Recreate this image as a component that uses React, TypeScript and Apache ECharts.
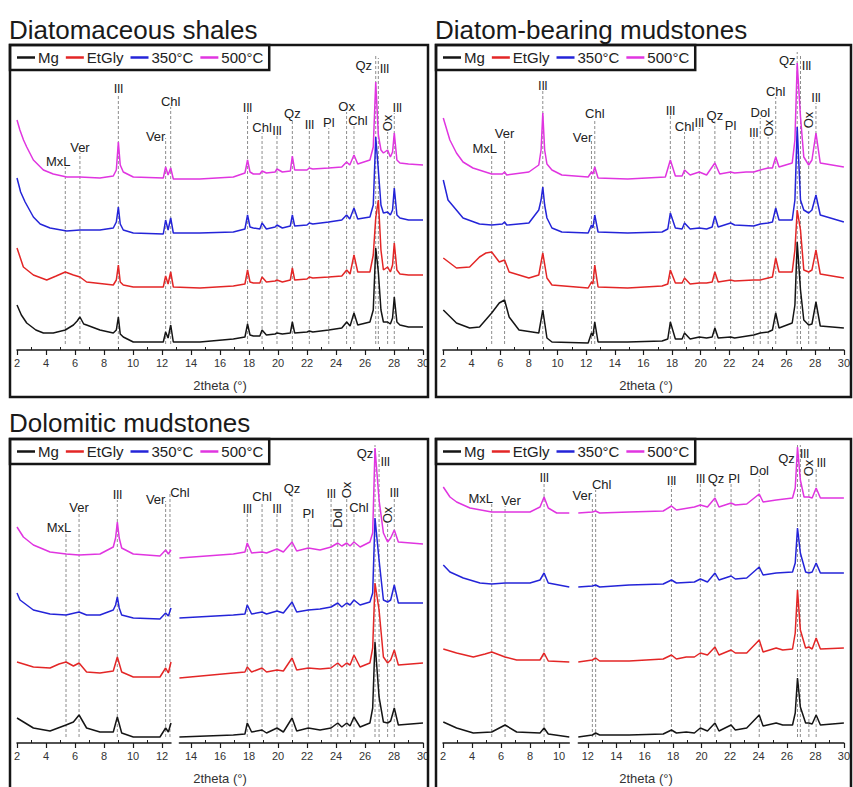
import React, { useEffect, useRef } from "react";
import * as echarts from "echarts";

const FONT = "'Liberation Sans', Arial, Helvetica, sans-serif";

// ---------- legend / series ----------
const SERIES_NAMES = ["Mg", "EtGly", "350°C", "500°C"];
const COLORS = ["#151515", "#e32626", "#2424d8", "#e035e0"];

// ---------- x axis ticks (2theta, °) ----------
const X_MIN = 2;
const X_MAX = 30;
const X_MAJOR_TICKS = [2, 4, 6, 8, 10, 12, 14, 16, 18, 20, 22, 24, 26, 28, 30];
const X_MINOR_TICKS = [3, 5, 7, 9, 11, 13, 15, 17, 19, 21, 23, 25, 27, 29];
const AXIS_NAME = "2theta (°)";

// ---------- Panel 1 : Diatomaceous shales ----------
const P1_MG = [[2.0,45],[2.3,35],[2.67,27],[3.3,20],[3.82,17],[4.5,17],[5.33,20],[5.89,25],[6.15,29],[6.34,33],[6.6,26],[6.8,25],[7.72,20],[8.64,17],[8.85,20],[8.99,33],[9.12,16],[9.33,13],[10.02,8],[12.09,8],[12.25,18],[12.42,12],[12.6,25],[12.78,8],[14.62,8],[16.92,11],[17.72,13],[17.9,26],[18.07,15],[18.3,14],[18.75,14],[18.9,20],[19.2,15],[19.8,16],[19.93,17],[20.3,16],[20.85,17],[20.99,28],[21.15,17],[22.0,18],[22.16,19],[22.4,18],[23.5,20],[24.4,22],[24.74,28],[24.97,24],[25.24,37],[25.5,25],[26.34,28],[26.57,40],[26.74,102],[26.92,78],[27.1,40],[27.27,28],[27.56,28],[27.75,26],[27.9,32],[28.02,53],[28.2,28],[28.41,25],[29,23],[30,23]];
const P1_EG = [[2.0,102],[2.44,83],[3.13,75],[4.05,70],[4.7,74],[5.33,78],[5.89,75],[6.34,73],[6.8,68],[8.64,65],[8.85,70],[8.99,85],[9.12,68],[9.33,65],[10.02,63],[12.09,63],[12.25,74],[12.42,66],[12.6,78],[12.78,63],[14.62,62],[16.92,64],[17.72,66],[17.9,80],[18.07,68],[18.3,67],[18.75,67],[18.9,73],[19.2,68],[19.8,69],[19.93,70],[20.3,68],[20.85,70],[20.99,82],[21.15,70],[22.0,71],[22.16,73],[22.4,72],[23.5,73],[24.4,74],[24.74,80],[24.97,76],[25.24,95],[25.5,78],[26.34,78],[26.57,95],[26.74,132],[26.92,150],[27.1,100],[27.27,80],[27.56,83],[27.75,78],[27.9,85],[28.02,107],[28.2,80],[28.41,76],[29,75],[30,75]];
const P1_350 = [[2.0,172],[2.25,158],[2.56,148],[3.13,133],[3.6,126],[4.28,122],[5.43,119],[6.34,120],[7.72,120],[8.64,122],[8.85,128],[8.99,143],[9.12,126],[9.33,120],[10.02,117],[12.09,116],[12.25,130],[12.42,120],[12.6,132],[12.78,117],[14.6,117],[16.92,118],[17.72,121],[17.9,135],[18.07,123],[18.3,122],[18.75,121],[18.9,127],[19.2,121],[19.8,123],[19.93,125],[20.3,122],[20.85,124],[20.99,135],[21.15,124],[22.0,125],[22.16,127],[22.4,126],[23.5,128],[24.4,130],[24.73,135],[24.95,131],[25.24,142],[25.5,131],[26.34,133],[26.57,145],[26.74,213],[26.92,180],[27.1,145],[27.27,137],[27.56,138],[27.75,135],[27.9,140],[28.02,162],[28.2,135],[28.41,132],[29,130],[30,130]];
const P1_500 = [[2.0,230],[2.2,220],[2.45,210],[2.67,203],[3.13,190],[3.82,180],[4.5,176],[5.43,173],[6.34,173],[7.72,172],[8.64,174],[8.85,180],[8.99,208],[9.12,185],[9.33,178],[10.02,173],[12.09,172],[12.25,183],[12.42,175],[12.6,182],[12.78,171],[14.6,171],[16.92,173],[17.72,177],[17.9,190],[18.07,178],[18.3,176],[18.75,176],[18.9,179],[19.2,177],[19.8,178],[19.93,181],[20.3,178],[20.85,179],[20.99,194],[21.15,180],[22.0,180],[22.16,182],[22.4,181],[23.5,182],[24.4,183],[24.73,188],[24.95,185],[25.24,195],[25.5,186],[26.34,190],[26.57,203],[26.74,268],[26.92,215],[27.1,200],[27.27,197],[27.56,200],[27.75,193],[27.9,198],[28.02,217],[28.2,190],[28.41,187],[29.0,186],[30,185]];
const P1_PEAK_POS = [5.33, 6.34, 8.99, 12.25, 12.6, 17.9, 18.9, 19.93, 20.99, 22.16, 23.5, 24.73, 25.24, 26.74, 26.92, 27.56, 28.02];
const P1_PEAK_TEXT = ["MxL", "Ver", "Ill", "Ver", "Chl", "Ill", "Chl", "Ill", "Qz", "Ill", "Pl", "Ox", "Chl", "Qz", "Ill", "Ox", "Ill"];

// ---------- Panel 2 : Diatom-bearing mudstones ----------
const P2_MG = [[2.02,40],[2.94,27],[3.86,22],[4.55,23],[5.4,37],[5.93,47],[6.3,50],[6.62,33],[7.31,20],[8.69,17],[8.97,40],[9.26,12],[9.61,8],[12.14,7],[12.37,17],[12.47,14],[12.6,28],[12.83,8],[14.9,8],[17.3,9],[17.7,11],[17.88,28],[18.23,11],[18.7,11],[18.87,17],[19.26,11],[19.91,13],[20.41,12],[20.8,13],[20.99,22],[21.22,12],[22.09,13],[22.37,12],[23.7,15],[24.16,17],[24.71,18],[25.01,20],[25.24,37],[25.47,22],[26.39,27],[26.58,45],[26.74,108],[26.97,60],[27.2,30],[27.54,25],[27.77,26],[28.05,48],[28.35,24],[30,22]];
const P2_EG = [[2.02,92],[2.94,82],[3.86,83],[4.55,93],[5.0,97],[5.4,98],[5.93,88],[6.3,90],[6.62,78],[8.0,72],[8.69,75],[8.97,97],[9.26,72],[9.61,65],[12.14,62],[12.37,68],[12.47,66],[12.6,85],[12.83,63],[14.9,62],[17.3,64],[17.7,66],[17.88,80],[18.23,67],[18.7,67],[18.87,72],[19.26,66],[19.9,67],[20.41,67],[20.8,68],[20.99,78],[21.22,68],[22.09,70],[22.37,69],[23.7,70],[24.16,70],[24.71,72],[25.01,73],[25.24,92],[25.47,78],[26.39,78],[26.58,100],[26.74,140],[26.97,120],[27.2,80],[27.54,78],[27.77,80],[28.05,100],[28.35,76],[30,72]];
const P2_350 = [[2.02,170],[2.35,150],[3.4,132],[4.55,126],[5.4,125],[6.15,126],[6.3,128],[6.45,125],[8.0,127],[8.69,140],[8.85,150],[8.97,163],[9.1,145],[9.26,132],[9.61,122],[10.3,118],[12.14,117],[12.37,125],[12.47,122],[12.6,135],[12.83,118],[14.9,117],[17.3,118],[17.7,121],[17.88,137],[18.23,122],[18.7,121],[18.87,127],[19.26,121],[19.9,122],[20.41,121],[20.8,123],[20.99,134],[21.22,123],[22.09,127],[22.37,125],[23.7,124],[24.16,126],[24.71,127],[25.01,128],[25.24,142],[25.47,130],[26.39,130],[26.58,150],[26.74,223],[26.97,150],[27.2,140],[27.54,137],[27.77,140],[28.05,155],[28.35,135],[30,128]];
const P2_500 = [[2.02,232],[2.48,210],[2.94,197],[3.4,188],[4.09,182],[5.4,176],[6.15,176],[6.3,178],[6.45,175],[8.0,178],[8.69,185],[8.85,200],[8.97,237],[9.1,200],[9.26,186],[9.61,180],[10.3,175],[12.14,173],[12.37,178],[12.47,176],[12.6,183],[12.83,172],[14.9,171],[17.53,173],[17.88,190],[18.23,174],[18.7,174],[18.87,180],[19.26,175],[19.9,178],[20.41,175],[20.99,187],[21.33,176],[22.09,178],[22.37,177],[23.17,178],[23.7,178],[24.16,180],[24.71,182],[25.01,182],[25.24,193],[25.47,183],[26.39,187],[26.58,210],[26.74,287],[26.97,233],[27.2,193],[27.54,185],[27.77,190],[28.05,217],[28.35,187],[30,183]];
const P2_PEAK_POS = [5.4, 6.3, 8.97, 12.37, 12.6, 17.88, 18.87, 19.9, 20.99, 22.09, 23.7, 24.16, 24.71, 25.24, 26.74, 26.97, 27.54, 28.05];
const P2_PEAK_TEXT = ["MxL", "Ver", "Ill", "Ver", "Chl", "Ill", "Chl", "Ill", "Qz", "Pl", "Ill", "Dol", "Ox", "Chl", "Qz", "Ill", "Ox", "Ill"];

// ---------- Panel 3 : Dolomitic mudstones ----------
const P3_MG = [[2.0,25],[3.13,15],[4.28,12],[5.38,18],[5.89,21],[6.28,28],[6.8,15],[7.72,11],[8.64,11],[8.92,26],[9.22,10],[10.02,6],[11.86,6],[12.25,15],[12.44,11],[12.62,20],[13.2,6],[16.92,8],[17.72,9],[17.88,20],[18.18,11],[18.9,13],[19.21,10],[19.93,15],[20.37,11],[20.97,25],[21.29,12],[22.09,15],[22.9,13],[23.66,15],[24.12,20],[24.4,16],[24.74,20],[24.97,17],[25.24,26],[25.66,16],[26.34,20],[26.53,35],[26.69,101],[26.97,46],[27.27,21],[27.56,20],[27.77,22],[28.02,35],[28.3,18],[30,20]];
const P3_EG = [[2.0,81],[3.13,76],[4.28,75],[4.9,79],[5.38,81],[5.89,77],[6.28,80],[6.8,71],[7.72,70],[8.64,72],[8.92,86],[9.22,71],[10.02,66],[11.86,66],[12.25,75],[12.44,70],[12.62,81],[13.2,65],[16.92,70],[17.72,71],[17.88,76],[18.18,71],[18.9,75],[19.21,71],[19.93,73],[20.37,72],[20.97,85],[21.29,73],[22.09,75],[22.9,74],[23.66,75],[24.12,80],[24.4,76],[24.74,80],[24.97,78],[25.24,88],[25.66,76],[26.34,80],[26.53,95],[26.69,160],[26.97,133],[27.27,86],[27.56,80],[27.77,83],[28.02,93],[28.3,78],[30,80]];
const P3_350 = [[2.0,150],[2.21,143],[3.13,133],[4.28,129],[5.38,128],[6.28,131],[6.8,128],[7.72,128],[8.64,133],[8.8,138],[8.92,146],[9.05,135],[9.22,128],[10.02,125],[11.86,124],[12.25,130],[12.44,127],[12.62,135],[13.2,125],[16.92,128],[17.72,129],[17.88,138],[18.18,129],[18.9,131],[19.21,129],[19.93,132],[20.37,130],[20.97,141],[21.29,131],[22.09,133],[22.9,134],[23.66,136],[24.12,140],[24.4,136],[24.74,140],[24.97,138],[25.24,143],[25.66,138],[26.34,141],[26.53,150],[26.69,225],[26.97,183],[27.27,143],[27.56,141],[27.77,143],[28.02,158],[28.3,140],[30,140]];
const P3_500 = [[2.0,216],[2.44,206],[3.13,198],[4.28,191],[5.38,189],[6.28,188],[7.72,189],[8.64,196],[8.8,205],[8.92,221],[9.05,205],[9.22,195],[10.02,189],[11.86,187],[12.25,193],[12.44,189],[12.62,193],[13.2,185],[16.92,189],[17.72,191],[17.88,200],[18.18,190],[18.9,191],[19.21,190],[19.93,194],[20.37,191],[20.97,201],[21.29,192],[22.09,195],[22.9,193],[23.66,196],[24.12,200],[24.4,197],[24.74,200],[24.97,197],[25.24,201],[25.66,196],[26.34,201],[26.53,210],[26.69,295],[26.97,243],[27.27,210],[27.56,201],[27.77,205],[28.02,213],[28.3,201],[30,199]];
const P3_PEAK_POS = [5.38, 6.28, 8.92, 12.25, 12.55, 17.88, 18.9, 19.93, 20.97, 22.09, 23.66, 24.12, 24.74, 25.24, 26.69, 26.97, 27.56, 28.02];
const P3_PEAK_TEXT = ["MxL", "Ver", "Ill", "Ver", "Chl", "Ill", "Chl", "Ill", "Qz", "Pl", "Ill", "Dol", "Ox", "Chl", "Qz", "Ill", "Ox", "Ill"];

// ---------- Panel 4 ----------
const P4_MG = [[2.02,21],[2.94,15],[4.09,10],[5.36,11],[6.28,18],[7.08,11],[8.69,10],[8.97,15],[9.26,9],[10.71,6],[11.33,6],[12.32,8],[12.55,10],[12.83,8],[14.9,8],[17.3,9],[17.88,13],[18.23,10],[18.92,11],[19.49,10],[19.91,15],[20.41,12],[20.94,20],[21.22,12],[22.07,18],[22.37,13],[23.17,15],[24.05,28],[24.32,17],[25.24,20],[25.7,18],[26.39,18],[26.58,30],[26.74,65],[26.94,36],[27.31,20],[27.54,20],[27.77,19],[28.05,28],[28.35,18],[30,20]];
const P4_EG = [[2.02,94],[2.94,90],[4.09,86],[4.9,89],[5.36,91],[6.28,86],[7.08,83],[8.69,83],[8.97,90],[9.26,82],[10.71,81],[11.33,81],[12.32,83],[12.55,85],[12.83,82],[14.9,82],[17.3,84],[17.88,88],[18.23,84],[18.92,86],[19.49,86],[19.91,90],[20.41,88],[20.94,96],[21.22,88],[22.07,93],[22.37,90],[23.17,90],[24.05,103],[24.32,91],[25.24,95],[25.7,93],[26.39,94],[26.58,110],[26.74,153],[26.94,113],[27.31,95],[27.54,96],[27.77,94],[28.05,105],[28.35,94],[30,95]];
const P4_350 = [[2.02,178],[2.48,171],[3.4,165],[4.55,160],[5.36,159],[6.28,160],[8.0,160],[8.69,163],[8.97,170],[9.26,160],[10.71,156],[11.33,156],[12.32,157],[12.55,158],[12.83,156],[14.9,158],[17.3,159],[17.88,163],[18.23,160],[19.49,161],[19.91,164],[20.41,161],[20.94,170],[21.22,163],[22.07,167],[22.37,164],[23.17,165],[24.05,176],[24.32,168],[25.24,170],[26.39,171],[26.58,180],[26.74,215],[26.94,190],[27.31,171],[27.54,170],[27.77,171],[28.05,180],[28.35,170],[30,170]];
const P4_500 = [[2.02,256],[2.48,246],[2.94,241],[3.86,235],[5.36,231],[6.28,231],[8.0,231],[8.69,236],[8.97,246],[9.26,235],[9.84,230],[10.71,230],[11.33,230],[12.32,231],[12.55,232],[12.83,230],[14.9,231],[17.3,232],[17.88,237],[18.23,233],[19.49,236],[19.91,238],[20.41,236],[20.94,245],[21.22,236],[22.07,240],[22.37,238],[23.17,239],[24.05,249],[24.32,241],[25.24,243],[26.39,245],[26.58,255],[26.74,296],[26.94,263],[27.2,246],[27.54,246],[27.77,245],[28.05,255],[28.35,245],[30,245]];
const P4_PEAK_POS = [5.36, 6.28, 8.97, 12.32, 12.55, 17.88, 19.91, 20.94, 22.07, 24.05, 26.74, 26.94, 27.54, 28.05];
const P4_PEAK_TEXT = ["MxL", "Ver", "Ill", "Ver", "Chl", "Ill", "Ill", "Qz", "Pl", "Dol", "Qz", "Ill", "Ox", "Ill"];

// ---------- layout (positions / sizes, not data) ----------
// annotation layout per peak: [label height, dashed-line top, label dx (px), rotated 0/1]
const P1_ANN_LAYOUT = [[189,183,-7,0],[203,197,0,0],[262,256,0,0],[214,212,-10,0],[249,243,0,0],[243,237,0,0],[223,217,0,0],[220,214,0,0],[237,231,0,0],[226,220,0,0],[228,222,0,0],[244,238,0,0],[230,224,4,0],[285,295,-12,0],[282,292,6,0],[227,218,0,1],[243,237,3,0]];
const P2_ANN_LAYOUT = [[202,196,-7,0],[217,211,0,0],[265,259,0,0],[213,211,-9,0],[237,231,0,0],[240,234,0,0],[224,218,0,0],[228,222,0,0],[235,229,0,0],[225,219,0,0],[218,212,0,0],[238,232,0,0],[222,213,0,1],[259,253,0,0],[290,298,-10,0],[285,296,6,0],[230,221,0,1],[253,247,0,0]];
const P3_ANN_LAYOUT = [[216,210,-7,0],[236,230,0,0],[249,243,0,0],[244,242,-10,0],[251,249,10,0],[235,229,0,0],[247,241,0,0],[235,229,0,0],[255,249,0,0],[230,224,0,0],[250,244,0,0],[225,214,0,1],[253,244,0,1],[236,230,5,0],[290,298,-10,0],[282,292,6,0],[228,219,0,1],[251,245,0,0]];
const P4_ANN_LAYOUT = [[245,239,-11,0],[243,237,6,0],[266,260,0,0],[248,246,-10,0],[259,253,6,0],[263,257,0,0],[265,259,0,0],[265,259,1,0],[265,259,3,0],[273,267,0,0],[285,298,-11,0],[290,298,4,0],[275,266,0,1],[281,275,5,0]];
const LINE_BOTTOM = 6;

const PANELS = [
  { title: "Diatomaceous shales", curves: [P1_MG, P1_EG, P1_350, P1_500], segments: [[2, 30]], pos: P1_PEAK_POS, text: P1_PEAK_TEXT, ann: P1_ANN_LAYOUT,
    frame: [10, 45, 418, 352], plotLeft: 17, plotRight: 423, plotTop: 45, axisY: 350, titleX: 9, titleY: 30 },
  { title: "Diatom-bearing mudstones", curves: [P2_MG, P2_EG, P2_350, P2_500], segments: [[2, 30]], pos: P2_PEAK_POS, text: P2_PEAK_TEXT, ann: P2_ANN_LAYOUT,
    frame: [436, 45, 415, 352], plotLeft: 443, plotRight: 849, plotTop: 45, axisY: 350, titleX: 435, titleY: 30 },
  { title: "Dolomitic mudstones", curves: [P3_MG, P3_EG, P3_350, P3_500], segments: [[2, 12.62], [13.2, 30]], pos: P3_PEAK_POS, text: P3_PEAK_TEXT, ann: P3_ANN_LAYOUT,
    frame: [10, 439, 418, 360], plotLeft: 17, plotRight: 423, plotTop: 439, axisY: 743, titleX: 9, titleY: 423 },
  { title: "", curves: [P4_MG, P4_EG, P4_350, P4_500], segments: [[2, 10.71], [11.33, 30]], pos: P4_PEAK_POS, text: P4_PEAK_TEXT, ann: P4_ANN_LAYOUT,
    frame: [436, 439, 415, 360], plotLeft: 443, plotRight: 849, plotTop: 439, axisY: 743, titleX: 435, titleY: 423 },
];

function buildOption() {
  const grid: any[] = [];
  const xAxis: any[] = [];
  const yAxis: any[] = [];
  const series: any[] = [];
  const graphic: any[] = [];
  const legend: any[] = [];

  PANELS.forEach((p) => {
    const k = (p.plotRight - p.plotLeft) / (X_MAX - X_MIN);
    const H = p.axisY - p.plotTop;
    p.segments.forEach(([s0, s1]) => {
      const inSeg = (v: number) => v >= s0 - 1e-6 && v <= s1 + 1e-6;
      const gi = grid.length;
      grid.push({ left: p.plotLeft + (s0 - X_MIN) * k, top: p.plotTop, width: (s1 - s0) * k, height: H });
      const xi = xAxis.length;
      xAxis.push({
        gridIndex: gi, type: "value", min: s0, max: s1, position: "bottom",
        axisLine: { show: true, onZero: false, lineStyle: { color: "#1a1a1a", width: 1.5 } },
        axisTick: { show: true, customValues: X_MAJOR_TICKS.filter(inSeg), length: 5, lineStyle: { color: "#1a1a1a", width: 1.2 } },
        axisLabel: { show: true, customValues: X_MAJOR_TICKS.filter(inSeg), fontSize: 11, color: "#333", fontFamily: FONT, margin: 7 },
        splitLine: { show: false },
      });
      xAxis.push({
        gridIndex: gi, type: "value", min: s0, max: s1, position: "bottom",
        axisLine: { show: false, onZero: false },
        axisTick: { show: true, inside: true, customValues: X_MINOR_TICKS.filter(inSeg), length: 3, lineStyle: { color: "#1a1a1a", width: 1 } },
        axisLabel: { show: false },
        splitLine: { show: false },
      });
      const yi = yAxis.length;
      yAxis.push({ gridIndex: gi, type: "value", min: 0, max: H, show: false });

      const annData = p.pos
        .map((pos, i) => [pos, p.ann[i][0], p.ann[i][1], p.ann[i][2], p.ann[i][3], i])
        .filter((d) => inSeg(d[0]));
      const texts = p.text;
      series.push({
        type: "custom", xAxisIndex: xi, yAxisIndex: yi, data: annData, silent: true, z: 1,
        encode: { x: 0, y: 1 },
        renderItem: (params: any, api: any) => {
          const pos = api.value(0), ly = api.value(1), lt = api.value(2), dx = api.value(3), rot = api.value(4), idx = api.value(5);
          const b = api.coord([pos, LINE_BOTTOM]);
          const t = api.coord([pos, lt]);
          const l = api.coord([pos, ly]);
          return {
            type: "group",
            children: [
              { type: "line", shape: { x1: b[0], y1: b[1], x2: t[0], y2: t[1] }, style: { stroke: "#808080", lineWidth: 0.9, lineDash: [3, 2] } },
              { type: "text", x: l[0] + dx, y: l[1], rotation: rot ? Math.PI / 2 : 0,
                style: { text: texts[idx], fill: "#222", font: "13px " + FONT, textAlign: "center", textVerticalAlign: "middle" } },
            ],
          };
        },
      });

      p.curves.forEach((c, ci) => {
        series.push({
          type: "line", name: SERIES_NAMES[ci], xAxisIndex: xi, yAxisIndex: yi,
          data: c.filter((pt) => inSeg(pt[0])), showSymbol: false, symbol: "none", silent: true,
          lineStyle: { color: COLORS[ci], width: 1.5 }, itemStyle: { color: COLORS[ci] }, z: 2 + ci,
        });
      });
    });

    // frame
    graphic.push({ type: "rect", z: 100, silent: true, shape: { x: p.frame[0], y: p.frame[1], width: p.frame[2], height: p.frame[3] },
      style: { fill: "transparent", stroke: "#151515", lineWidth: 2.5 } });
    // title
    if (p.title) {
      graphic.push({ type: "text", z: 100, x: p.titleX, y: p.titleY,
        style: { text: p.title, fill: "#1a1a1a", font: "26px " + FONT, textAlign: "left", textVerticalAlign: "middle" } });
    }
    // axis name
    graphic.push({ type: "text", z: 100, x: p.plotLeft + (p.plotRight - p.plotLeft) / 2, y: p.axisY + 35,
      style: { text: AXIS_NAME, fill: "#333", font: "13px " + FONT, textAlign: "center", textVerticalAlign: "middle" } });
    // legend
    legend.push({
      left: p.frame[0], top: p.frame[1], data: SERIES_NAMES, icon: "rect", itemWidth: 18, itemHeight: 2.5, itemGap: 7,
      padding: [5, 6, 5, 7], borderColor: "#151515", borderWidth: 2.5, backgroundColor: "#fff", selectedMode: false,
      textStyle: { fontSize: 15, color: "#222", fontFamily: FONT, padding: [0, 0, 0, -2] }, z: 50,
    });
  });

  return { animation: false, backgroundColor: "#fff", grid, xAxis, yAxis, series, graphic, legend };
}

export default function App() {
  const ref = useRef<HTMLDivElement>(null);
  useEffect(() => {
    if (!ref.current) return;
    const chart = echarts.init(ref.current, undefined, { renderer: "svg" });
    chart.setOption(buildOption() as any);
    return () => chart.dispose();
  }, []);
  return <div ref={ref} style={{ position: "fixed", left: 0, top: 0, width: 853, height: 787, background: "#fff" }} />;
}
